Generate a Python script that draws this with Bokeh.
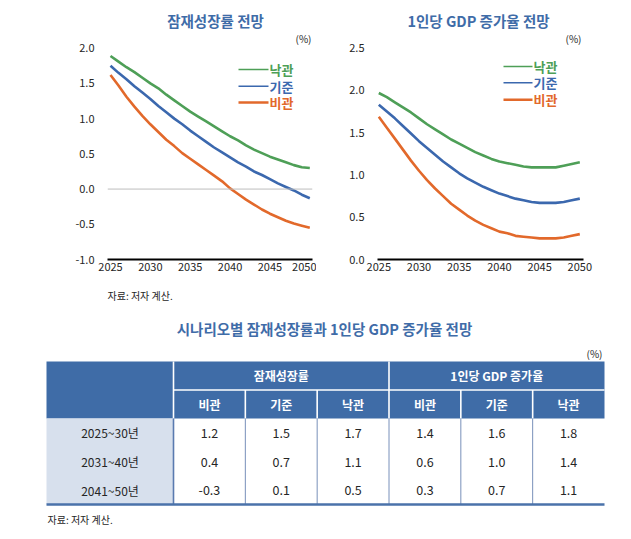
from bokeh.plotting import figure
from bokeh.layouts import column, row
from bokeh.models import Range1d, FixedTicker, Span, PrintfTickFormatter
from bokeh.core.properties import value
from bokeh.embed import file_html
from bokeh.resources import INLINE

FONT = "Noto Sans CJK KR"

# ---------------- data ----------------
years = list(range(2025, 2051))
scenarios = ["낙관", "기준", "비관"]

pg_opt = [1.89, 1.81, 1.73, 1.66, 1.58, 1.50, 1.43, 1.34, 1.26, 1.18, 1.10, 1.03, 0.96,
          0.89, 0.82, 0.75, 0.69, 0.62, 0.56, 0.51, 0.46, 0.42, 0.38, 0.34, 0.31, 0.30]
pg_base = [1.75, 1.65, 1.56, 1.46, 1.37, 1.28, 1.18, 1.09, 1.00, 0.92, 0.83, 0.75, 0.67,
           0.59, 0.52, 0.45, 0.38, 0.32, 0.25, 0.20, 0.14, 0.08, 0.03, -0.02, -0.08, -0.13]
pg_pess = [1.62, 1.47, 1.31, 1.17, 1.04, 0.92, 0.81, 0.70, 0.61, 0.51, 0.43, 0.35, 0.27,
           0.19, 0.11, 0.01, -0.07, -0.15, -0.22, -0.29, -0.35, -0.40, -0.45, -0.49, -0.52, -0.55]

gdp_opt = [1.97, 1.92, 1.86, 1.80, 1.74, 1.67, 1.60, 1.54, 1.48, 1.42, 1.37, 1.32, 1.27,
           1.23, 1.19, 1.16, 1.14, 1.12, 1.10, 1.09, 1.09, 1.09, 1.09, 1.11, 1.13, 1.15]
gdp_base = [1.83, 1.75, 1.67, 1.58, 1.49, 1.40, 1.32, 1.24, 1.16, 1.09, 1.02, 0.96, 0.91,
            0.86, 0.82, 0.78, 0.75, 0.72, 0.70, 0.68, 0.67, 0.67, 0.67, 0.68, 0.70, 0.72]
gdp_pess = [1.69, 1.56, 1.43, 1.30, 1.17, 1.05, 0.94, 0.84, 0.75, 0.66, 0.59, 0.52, 0.46,
            0.41, 0.37, 0.33, 0.31, 0.28, 0.27, 0.26, 0.25, 0.25, 0.25, 0.26, 0.28, 0.30]

x_ticks = [2025, 2030, 2035, 2040, 2045, 2050]
pg_yticks = [-1.0, -0.5, 0.0, 0.5, 1.0, 1.5, 2.0]
gdp_yticks = [0.0, 0.5, 1.0, 1.5, 2.0, 2.5]

# table
periods = ["2025~30년", "2031~40년", "2041~50년"]
groups = ["잠재성장률", "1인당 GDP 증가율"]
sub_cols = ["비관", "기준", "낙관"]
tbl_pg = {"비관": ["1.2", "0.4", "-0.3"], "기준": ["1.5", "0.7", "0.1"], "낙관": ["1.7", "1.1", "0.5"]}
tbl_gdp = {"비관": ["1.4", "0.6", "0.3"], "기준": ["1.6", "1.0", "0.7"], "낙관": ["1.8", "1.4", "1.1"]}

chart_titles = ["잠재성장률 전망", "1인당 GDP 증가율 전망"]
table_title = "시나리오별 잠재성장률과 1인당 GDP 증가율 전망"
source_note = "자료: 저자 계산."

GREEN = "#4E9F57"
BLUE = "#3B68AE"
ORANGE = "#E2692B"
COLORS = [GREEN, BLUE, ORANGE]
TITLE_BLUE = "#3F6CA8"
HEADER_BLUE = "#3F6CA7"
STUB_FILL = "#D7E0ED"
TXT = "#262626"

TOP_H = 280


def make_chart(width, fig_left, mb_left, frame_w, x_px, yr_data, yticks, series, title,
               title_cx, pct_x, leg_x0, leg_x1, leg_ys, zero_line):
    # x_px: screen x of 2025 and 2050; yr_data: (bottom value at y=259, top value at y=47.7)
    frame_l = fig_left + mb_left
    frame_b = 259.0
    ppy = (x_px[1] - x_px[0]) / 25.0
    x0 = 2025 - (x_px[0] - frame_l) / ppy
    x1 = 2025 + (frame_l + frame_w - x_px[0]) / ppy
    ppu = (frame_b - 47.7) / (yr_data[1] - yr_data[0])
    y0 = yr_data[0]
    y1 = yr_data[0] + frame_b / ppu

    def dx(sx):
        return x0 + (sx - frame_l) / ppy

    def dy(sy):
        return y0 + (frame_b - sy) / ppu

    p = figure(width=width, height=TOP_H, x_range=Range1d(x0, x1), y_range=Range1d(y0, y1),
               toolbar_location=None, output_backend="svg", title=None,
               min_border_left=mb_left, min_border_right=width - mb_left - frame_w,
               min_border_top=0, min_border_bottom=TOP_H - int(frame_b))
    p.outline_line_color = None
    p.background_fill_color = "white"
    p.grid.grid_line_color = None

    p.xaxis.ticker = FixedTicker(ticks=x_ticks)
    p.yaxis.ticker = FixedTicker(ticks=yticks)
    p.yaxis.formatter = PrintfTickFormatter(format="%.1f")
    for ax in (p.xaxis, p.yaxis):
        ax.major_tick_line_color = None
        ax.minor_tick_line_color = None
        ax.major_tick_out = 0
        ax.major_tick_in = 0
        ax.minor_tick_out = 0
        ax.major_label_text_font = FONT
        ax.major_label_text_font_size = "11px"
        ax.major_label_text_color = TXT
    p.yaxis.axis_line_color = None
    p.yaxis.major_label_standoff = 13
    p.xaxis.axis_line_color = "black"
    p.xaxis.axis_line_width = 2
    p.xaxis.major_label_standoff = 3

    if zero_line:
        p.add_layout(Span(location=0, dimension="width", line_color="#BDBDBD", line_width=1))

    for ys, c in zip(series, COLORS):
        p.line(years, ys, line_color=c, line_width=2.6, line_join="round")

    # legend
    p.segment(x0=[dx(leg_x0)] * 3, x1=[dx(leg_x1)] * 3, y0=[dy(v) for v in leg_ys],
              y1=[dy(v) for v in leg_ys], line_color=COLORS, line_width=[1.6, 1.6, 2.4])
    p.text(x=[dx(leg_x1 + 1)] * 3, y=[dy(v) for v in leg_ys], text=scenarios,
           text_color=COLORS, text_font=value(FONT), text_font_size="13px",
           text_font_style="bold", text_align="left", text_baseline="middle")

    p.text(x=[dx(title_cx)], y=[dy(20)], text=[title], text_font=value(FONT),
           text_font_size="14.5px", text_font_style="bold", text_color=TITLE_BLUE,
           text_align="center", text_baseline="middle")
    p.text(x=[dx(pct_x)], y=[dy(38)], text=["(%)"], text_font=value(FONT),
           text_font_size="10px", text_color=TXT, text_align="center", text_baseline="middle")
    return p


p1 = make_chart(316, 0, 107, 205, (110.0, 309.3), (-1.0, 2.0), pg_yticks,
                [pg_opt, pg_base, pg_pess], chart_titles[0],
                215, 303, 238, 268, [69, 85.7, 102], True)
p2 = make_chart(307, 316, 61, 206, (378.3, 579.3), (0.0, 2.5), gdp_yticks,
                [gdp_opt, gdp_base, gdp_pess], chart_titles[1],
                478, 573, 503, 532, [66, 82.3, 99.3], False)

# ---------------- table ----------------
T_TOP, T_BOT = TOP_H, 531
t = figure(width=623, height=T_BOT - T_TOP, x_range=Range1d(0, 623),
           y_range=Range1d(T_BOT, T_TOP), x_axis_type=None, y_axis_type=None,
           toolbar_location=None, output_backend="svg", min_border=0, title=None)
t.outline_line_color = None

tab_l, stub_r, tab_r = 46, 173, 604
cw = (tab_r - stub_r) / 6
h_top, h_mid, h_bot = 361, 389.5, 418
b_bot = 504
row_h = (b_bot - h_bot) / 3

col_edges = [stub_r + i * cw for i in range(7)]
col_centers = [stub_r + (i + 0.5) * cw for i in range(6)]
row_centers = [h_bot + (i + 0.5) * row_h for i in range(3)]

t.quad(left=[tab_l], right=[tab_r], top=[h_top], bottom=[h_bot], fill_color=HEADER_BLUE,
       line_color=None)
t.quad(left=[tab_l], right=[stub_r], top=[h_bot], bottom=[b_bot], fill_color=STUB_FILL,
       line_color=None)

# white separators in the header
t.segment(x0=[stub_r, col_edges[3]], x1=[stub_r, col_edges[3]], y0=[h_top] * 2, y1=[h_bot] * 2,
          line_color="white", line_width=1.6)
t.segment(x0=[stub_r], x1=[tab_r], y0=[h_mid], y1=[h_mid], line_color="white", line_width=1.6)
sub_edges = [col_edges[i] for i in (1, 2, 4, 5)]
t.segment(x0=sub_edges, x1=sub_edges, y0=[h_mid] * 4, y1=[h_bot] * 4,
          line_color="white", line_width=1.6)

# body dividers
t.segment(x0=[stub_r], x1=[stub_r], y0=[h_bot], y1=[b_bot], line_color="#5A7BB0", line_width=1.6)
body_edges = col_edges[1:6]
t.segment(x0=body_edges, x1=body_edges, y0=[h_bot] * 5, y1=[b_bot] * 5,
          line_color="#7890BA", line_width=1)
t.segment(x0=[tab_l], x1=[tab_r], y0=[b_bot], y1=[b_bot], line_color="#4A72AA", line_width=2.5)

# header texts
t.text(x=[(col_edges[0] + col_edges[3]) / 2, (col_edges[3] + col_edges[6]) / 2],
       y=[(h_top + h_mid) / 2] * 2, text=groups, text_color="white",
       text_font=value(FONT), text_font_size="12px", text_font_style="bold",
       text_align="center", text_baseline="middle")
t.text(x=col_centers, y=[(h_mid + h_bot) / 2] * 6, text=sub_cols * 2, text_color="white",
       text_font=value(FONT), text_font_size="12px", text_font_style="bold",
       text_align="center", text_baseline="middle")

# body texts
t.text(x=[(tab_l + stub_r) / 2] * 3, y=row_centers, text=periods, text_color=TXT,
       text_font=value(FONT), text_font_size="12px", text_align="center",
       text_baseline="middle")
bx, by, bt = [], [], []
for gi, tbl in enumerate([tbl_pg, tbl_gdp]):
    for si, s in enumerate(sub_cols):
        for ri in range(3):
            bx.append(col_centers[gi * 3 + si])
            by.append(row_centers[ri])
            bt.append(tbl[s][ri])
t.text(x=bx, y=by, text=bt, text_color=TXT, text_font=value(FONT), text_font_size="12.5px",
       text_align="center", text_baseline="middle")

# titles and notes
t.text(x=[324], y=[328], text=[table_title], text_font=value(FONT), text_font_size="14.5px",
       text_font_style="bold", text_color=TITLE_BLUE, text_align="center",
       text_baseline="middle")
t.text(x=[602], y=[352.5], text=["(%)"], text_font=value(FONT), text_font_size="10px",
       text_color=TXT, text_align="right", text_baseline="middle")
t.text(x=[47, 107], y=[518.5, 295], text=[source_note, source_note], text_font=value(FONT),
       text_font_size="10px", text_color=TXT, text_align="left", text_baseline="middle")

layout = column(row(p1, p2), t)
open("out.html", "w").write(file_html(layout, INLINE))
